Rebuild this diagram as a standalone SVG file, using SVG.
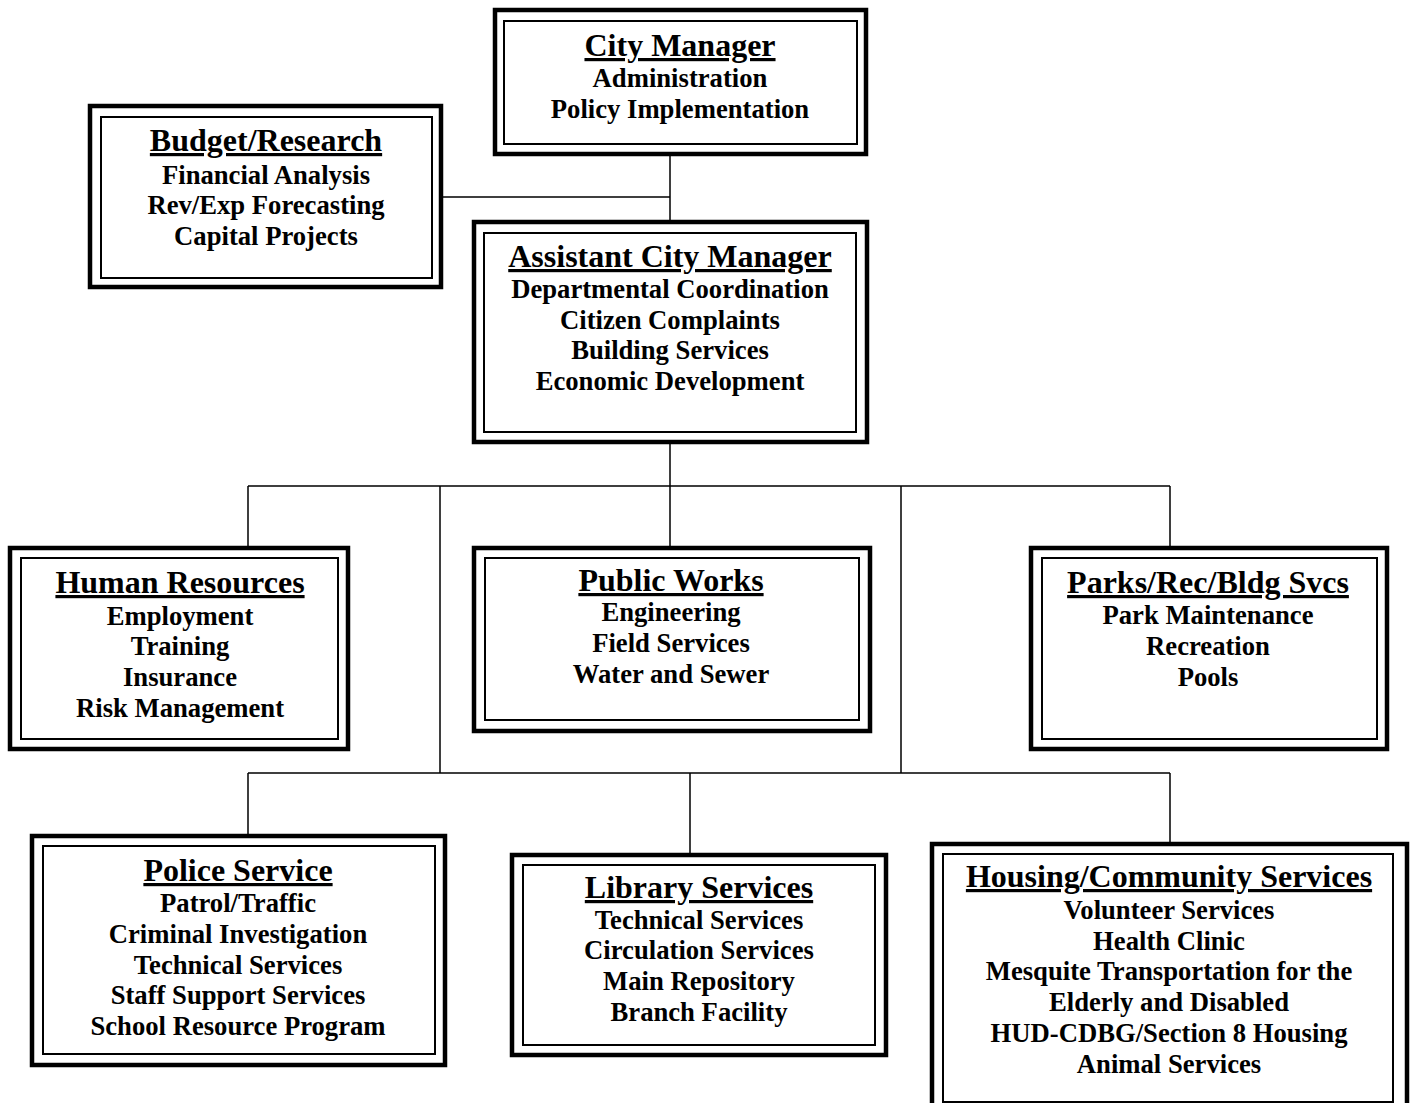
<svg xmlns="http://www.w3.org/2000/svg" width="1414" height="1103" viewBox="0 0 1414 1103">
<style>
.o{fill:none;stroke:#000;stroke-width:4.5}
.i{fill:none;stroke:#000;stroke-width:2}
text{font-family:"Liberation Serif","Times New Roman",serif;font-weight:bold;fill:#000;text-anchor:middle}
.t{font-size:32px;text-decoration:underline;text-decoration-skip-ink:none;text-decoration-thickness:2.5px;text-underline-offset:4px}
.s{font-size:26.67px}
.c{stroke:#000;stroke-width:1.5;fill:none}
</style>
<rect width="1414" height="1103" fill="#fff"/>
<g id="connectors">
<path class="c" d="M670 155V222M441 197H670M670 442V486M248 486H1170M248 486V547M670 486V547M1170 486V547M440 486V773M901 486V773M248 773H1170M248 773V835M690 773V855M1170 773V844"/>
</g>
<g id="city-manager">
<rect class="o" x="495" y="10" width="371" height="144"/>
<rect class="i" x="504" y="21" width="353" height="123"/>
<text class="t" x="680" y="56">City Manager</text>
<text class="s" x="680" y="87">Administration</text>
<text class="s" x="680" y="118">Policy Implementation</text>
</g>
<g id="budget-research">
<rect class="o" x="90" y="106" width="351" height="181"/>
<rect class="i" x="101" y="117" width="331" height="161"/>
<text class="t" x="266" y="151">Budget/Research</text>
<text class="s" x="266" y="184">Financial Analysis</text>
<text class="s" x="266" y="214">Rev/Exp Forecasting</text>
<text class="s" x="266" y="245">Capital Projects</text>
</g>
<g id="assistant-city-manager">
<rect class="o" x="474" y="222" width="393" height="220"/>
<rect class="i" x="484" y="233" width="372" height="199"/>
<text class="t" x="670" y="267">Assistant City Manager</text>
<text class="s" x="670" y="298">Departmental Coordination</text>
<text class="s" x="670" y="329">Citizen Complaints</text>
<text class="s" x="670" y="359">Building Services</text>
<text class="s" x="670" y="390">Economic Development</text>
</g>
<g id="human-resources">
<rect class="o" x="10" y="548" width="338" height="201"/>
<rect class="i" x="21" y="558" width="317" height="181"/>
<text class="t" x="180" y="593">Human Resources</text>
<text class="s" x="180" y="625">Employment</text>
<text class="s" x="180" y="655">Training</text>
<text class="s" x="180" y="686">Insurance</text>
<text class="s" x="180" y="717">Risk Management</text>
</g>
<g id="public-works">
<rect class="o" x="474" y="548" width="396" height="183"/>
<rect class="i" x="485" y="558" width="374" height="162"/>
<text class="t" x="671" y="591">Public Works</text>
<text class="s" x="671" y="621">Engineering</text>
<text class="s" x="671" y="652">Field Services</text>
<text class="s" x="671" y="683">Water and Sewer</text>
</g>
<g id="parks-rec">
<rect class="o" x="1031" y="548" width="356" height="201"/>
<rect class="i" x="1042" y="558" width="335" height="181"/>
<text class="t" x="1208" y="593">Parks/Rec/Bldg Svcs</text>
<text class="s" x="1208" y="624">Park Maintenance</text>
<text class="s" x="1208" y="655">Recreation</text>
<text class="s" x="1208" y="686">Pools</text>
</g>
<g id="police-service">
<rect class="o" x="32" y="836" width="413" height="229"/>
<rect class="i" x="43" y="846" width="392" height="208"/>
<text class="t" x="238" y="881">Police Service</text>
<text class="s" x="238" y="912">Patrol/Traffic</text>
<text class="s" x="238" y="943">Criminal Investigation</text>
<text class="s" x="238" y="974">Technical Services</text>
<text class="s" x="238" y="1004">Staff Support Services</text>
<text class="s" x="238" y="1035">School Resource Program</text>
</g>
<g id="library-services">
<rect class="o" x="512" y="855" width="374" height="200"/>
<rect class="i" x="523" y="865" width="352" height="180"/>
<text class="t" x="699" y="898">Library Services</text>
<text class="s" x="699" y="929">Technical Services</text>
<text class="s" x="699" y="959">Circulation Services</text>
<text class="s" x="699" y="990">Main Repository</text>
<text class="s" x="699" y="1021">Branch Facility</text>
</g>
<g id="housing-community">
<rect class="o" x="932" y="844" width="475" height="270"/>
<rect class="i" x="943" y="854" width="450" height="248"/>
<text class="t" x="1169" y="887">Housing/Community Services</text>
<text class="s" x="1169" y="919">Volunteer Services</text>
<text class="s" x="1169" y="950">Health Clinic</text>
<text class="s" x="1169" y="980">Mesquite Transportation for the</text>
<text class="s" x="1169" y="1011">Elderly and Disabled</text>
<text class="s" x="1169" y="1042">HUD-CDBG/Section 8 Housing</text>
<text class="s" x="1169" y="1073">Animal Services</text>
</g>
</svg>
